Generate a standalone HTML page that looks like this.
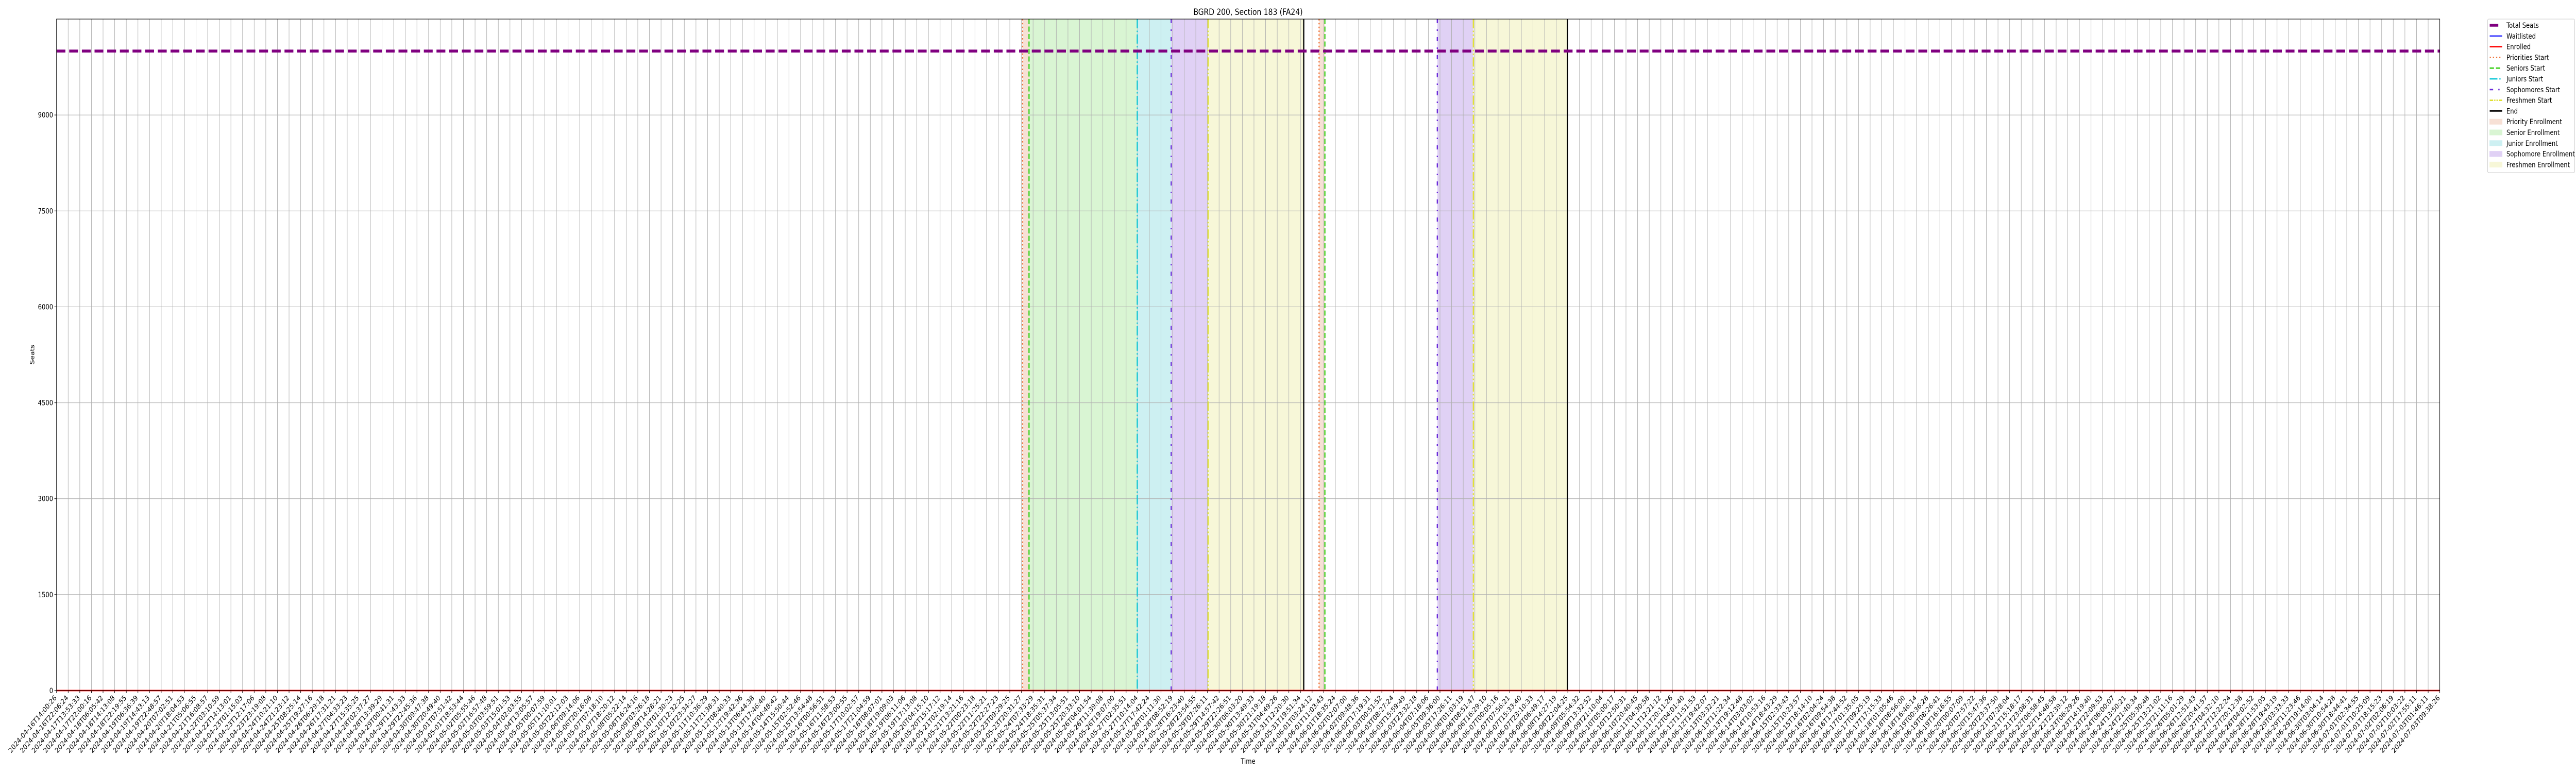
<!DOCTYPE html>
<html><head><meta charset="utf-8"><style>
html,body{margin:0;padding:0;background:#fff;width:100%;height:100%;overflow:hidden;}
svg{display:block;width:100vw;height:100vh;overflow:hidden;font-family:"DejaVu Sans","Liberation Sans",sans-serif;}
</style></head><body>
<svg id="chart" xmlns="http://www.w3.org/2000/svg" viewBox="0 0 6000 1500" preserveAspectRatio="none">
<rect x="0" y="0" width="6000" height="1500" fill="#fff"/>
<g id="spans"></g>
<g id="grid"></g>
<g id="vlines"></g>
<g id="series"></g>
<g id="axes"></g>
<text x="2907" y="29" text-anchor="middle" font-size="16.7">BGRD 200, Section 183 (FA24)</text>
<text x="2907" y="1482" text-anchor="middle" font-size="13.9">Time</text>
<text transform="translate(80,688) rotate(-90)" text-anchor="middle" font-size="13.9">Seats</text>
<g id="legend"></g>
</svg>
<script>
// ---- data ----
const labelAnchors = {
0:"2024-04-16T14:00:26",1:"2024-04-16T22:06:24",2:"2024-04-17T13:53:33",3:"2024-04-17T22:00:16",
4:"2024-04-18T06:05:42",5:"2024-04-18T14:13:08",6:"2024-04-18T22:19:55",7:"2024-04-19T06:36:39",
8:"2024-04-19T14:43:13",9:"2024-04-19T22:48:57",10:"2024-04-20T07:02:51",
86:"2024-05-25T05:37:34",87:"2024-05-25T13:05:51",88:"2024-05-25T20:33:10",89:"2024-05-26T04:01:54",
90:"2024-05-26T11:39:08",91:"2024-05-26T19:07:00",92:"2024-05-27T02:35:51",93:"2024-05-27T10:14:04",
94:"2024-05-27T17:42:24",95:"2024-05-28T01:11:30",96:"2024-05-28T08:52:19",97:"2024-05-28T16:23:40",
98:"2024-05-28T23:54:55",99:"2024-05-29T07:26:11",100:"2024-05-29T14:57:42",101:"2024-05-29T22:26:51",
102:"2024-05-30T06:03:20",103:"2024-05-30T13:49:33",104:"2024-05-30T21:19:18",105:"2024-05-31T04:49:26",
107:"2024-05-31T19:51:34",108:"2024-06-01T03:24:12",109:"2024-06-01T11:03:43",110:"2024-06-01T18:35:24",
111:"2024-06-02T02:07:00",112:"2024-06-02T09:48:36",113:"2024-06-02T17:19:31",114:"2024-06-03T00:51:52",
115:"2024-06-03T08:27:24",116:"2024-06-03T15:59:49",117:"2024-06-03T23:32:18",118:"2024-06-04T07:18:06",
119:"2024-06-05T09:36:00",120:"2024-06-05T17:26:11",121:"2024-06-06T01:03:19",122:"2024-06-06T08:51:47",
123:"2024-06-06T16:29:10",124:"2024-06-07T00:05:16",125:"2024-06-07T07:56:21",126:"2024-06-07T15:33:40",
127:"2024-06-07T23:10:33",128:"2024-06-08T06:49:17",129:"2024-06-08T14:27:19",130:"2024-06-08T22:04:25",
131:"2024-06-09T05:54:32",132:"2024-06-09T13:32:52",133:"2024-06-09T21:10:04",
200:"2024-07-01T18:15:23",201:"2024-07-02T02:06:19",202:"2024-07-02T10:03:22",203:"2024-07-02T17:55:11",
204:"2024-07-03T01:46:11",205:"2024-07-03T09:38:26"};
const nPoints = 206;
const yTicks = [0,1500,3000,4500,6000,7500,9000];
const yMax = 10500;
const totalSeats = [
10000,10000,10000,10000,10000,10000,10000,10000,10000,10000,
10000,10000,10000,10000,10000,10000,10000,10000,10000,10000,
10000,10000,10000,10000,10000,10000,10000,10000,10000,10000,
10000,10000,10000,10000,10000,10000,10000,10000,10000,10000,
10000,10000,10000,10000,10000,10000,10000,10000,10000,10000,
10000,10000,10000,10000,10000,10000,10000,10000,10000,10000,
10000,10000,10000,10000,10000,10000,10000,10000,10000,10000,
10000,10000,10000,10000,10000,10000,10000,10000,10000,10000,
10000,10000,10000,10000,10000,10000,10000,10000,10000,10000,
10000,10000,10000,10000,10000,10000,10000,10000,10000,10000,
10000,10000,10000,10000,10000,10000,10000,10000,10000,10000,
10000,10000,10000,10000,10000,10000,10000,10000,10000,10000,
10000,10000,10000,10000,10000,10000,10000,10000,10000,10000,
10000,10000,10000,10000,10000,10000,10000,10000,10000,10000,
10000,10000,10000,10000,10000,10000,10000,10000,10000,10000,
10000,10000,10000,10000,10000,10000,10000,10000,10000,10000,
10000,10000,10000,10000,10000,10000,10000,10000,10000,10000,
10000,10000,10000,10000,10000,10000,10000,10000,10000,10000,
10000,10000,10000,10000,10000,10000,10000,10000,10000,10000,
10000,10000,10000,10000,10000,10000,10000,10000,10000,10000,
10000,10000,10000,10000,10000,10000];
const waitlisted = [
0,0,0,0,0,0,0,0,0,0, 0,0,0,0,0,0,0,0,0,0, 0,0,0,0,0,0,0,0,0,0, 0,0,0,0,0,0,0,0,0,0,
0,0,0,0,0,0,0,0,0,0, 0,0,0,0,0,0,0,0,0,0, 0,0,0,0,0,0,0,0,0,0, 0,0,0,0,0,0,0,0,0,0,
0,0,0,0,0,0,0,0,0,0, 0,0,0,0,0,0,0,0,0,0, 0,0,0,0,0,0,0,0,0,0, 0,0,0,0,0,0,0,0,0,0,
0,0,0,0,0,0,0,0,0,0, 0,0,0,0,0,0,0,0,0,0, 0,0,0,0,0,0,0,0,0,0, 0,0,0,0,0,0,0,0,0,0,
0,0,0,0,0,0,0,0,0,0, 0,0,0,0,0,0,0,0,0,0, 0,0,0,0,0,0,0,0,0,0, 0,0,0,0,0,0,0,0,0,0,
0,0,0,0,0,0];
const enrolled = [
0,0,0,0,0,0,0,0,0,0, 0,0,0,0,0,0,0,0,0,0, 0,0,0,0,0,0,0,0,0,0, 0,0,0,0,0,0,0,0,0,0,
0,0,0,0,0,0,0,0,0,0, 0,0,0,0,0,0,0,0,0,0, 0,0,0,0,0,0,0,0,0,0, 0,0,0,0,0,0,0,0,0,0,
0,0,0,0,0,0,0,0,0,0, 0,0,0,0,0,0,0,0,0,0, 0,0,0,0,0,0,0,0,0,0, 0,0,0,0,0,0,0,0,0,0,
0,0,0,0,0,0,0,0,0,0, 0,0,0,0,0,0,0,0,0,0, 0,0,0,0,0,0,0,0,0,0, 0,0,0,0,0,0,0,0,0,0,
0,0,0,0,0,0,0,0,0,0, 0,0,0,0,0,0,0,0,0,0, 0,0,0,0,0,0,0,0,0,0, 0,0,0,0,0,0,0,0,0,0,
0,0,0,0,0,0];
// phase start positions (fractional time index)
const priorityStarts = [83.1, 108.6];
const seniorStarts = [83.65, 109.1];
const juniorStarts = [92.96];
const sophomoreStarts = [95.88, 118.77];
const freshmenStarts = [99.05, 121.87];
const endPoints = [107.28, 129.96];
// spans [start, end]
const prioritySpans = [[83.1,83.65],[108.6,109.1]];
const seniorSpans = [[83.65,92.96]];
const juniorSpans = [[92.96,95.88]];
const sophomoreSpans = [[95.88,99.05],[118.77,121.87]];
const freshmenSpans = [[99.05,107.28],[121.87,129.96]];

// ---- scales ----
const L=131.7, R=5682.7, T=37, B=1340;
const xs = i => L + i*(R-L)/(nPoints-1);
const ys = v => B - v/yMax*(B-T);
const NS="http://www.w3.org/2000/svg";
function mk(tag, attrs, parent){const e=document.createElementNS(NS,tag);for(const k in attrs)e.setAttribute(k,attrs[k]);parent.appendChild(e);return e;}

// labels
function parseT(s){const m=s.match(/(\d+)-(\d+)-(\d+)T(\d+):(\d+):(\d+)/);return Date.UTC(+m[1],+m[2]-1,+m[3],+m[4],+m[5],+m[6]);}
function fmt(t){const d=new Date(t);const p=n=>String(n).padStart(2,'0');return d.getUTCFullYear()+"-"+p(d.getUTCMonth()+1)+"-"+p(d.getUTCDate())+"T"+p(d.getUTCHours())+":"+p(d.getUTCMinutes())+":"+p(d.getUTCSeconds());}
const keys=Object.keys(labelAnchors).map(Number).sort((a,b)=>a-b);
const tickLabels=[];
for(let i=0;i<nPoints;i++){
  if(labelAnchors[i]){tickLabels.push(labelAnchors[i]);continue;}
  let a=keys.filter(k=>k<i).pop(), b=keys.find(k=>k>i);
  const ta=parseT(labelAnchors[a]), tb=parseT(labelAnchors[b]);
  tickLabels.push(fmt(ta+(tb-ta)*(i-a)/(b-a)));
}

// spans
const spansG=document.getElementById('spans');
function drawSpans(arr,color,name){arr.forEach(s=>{
  const r=mk('rect',{x:xs(s[0]),y:T,width:xs(s[1])-xs(s[0]),height:B-T,fill:color},spansG);
  
  
});}
drawSpans(prioritySpans,'#f7e0d5','priority-enrollment-span');
drawSpans(seniorSpans,'#d9f5d3','senior-enrollment-span');
drawSpans(juniorSpans,'#cdf0f2','junior-enrollment-span');
drawSpans(sophomoreSpans,'#e0d1f5','sophomore-enrollment-span');
drawSpans(freshmenSpans,'#f7f7d8','freshmen-enrollment-span');

// grid
const gridG=document.getElementById('grid');
for(let i=0;i<nPoints;i++){
  const l=mk('line',{x1:xs(i),x2:xs(i),y1:T,y2:B,stroke:'#b0b0b0','stroke-width':1.1},gridG);
  
  
}
yTicks.forEach(v=>{
  const l=mk('line',{x1:L,x2:R,y1:ys(v),y2:ys(v),stroke:'#b0b0b0','stroke-width':1.1},gridG);
  
  
});

// vertical phase lines
const vG=document.getElementById('vlines');
function drawV(arr,color,dash,w,name){arr.forEach(p=>{
  const a={x1:xs(p),x2:xs(p),y1:T,y2:B,stroke:color,'stroke-width':w};
  if(dash)a['stroke-dasharray']=dash;
  const l=mk('line',a,vG);
  
  
});}
drawV(priorityStarts,'#f0743a','2.8,4.6',2.8,'priorities-start-line');
drawV(seniorStarts,'#3fcf1f','10,4.5',2.8,'seniors-start-line');
drawV(juniorStarts,'#12c8d8','18,4.5,2.8,4.5',2.8,'juniors-start-line');
drawV(sophomoreStarts,'#6a2bd9','8,12,3,12',2.8,'sophomores-start-line');
drawV(freshmenStarts,'#e0e030','18,4.5,2.8,4.5,2.8,4.5',2.8,'freshmen-start-line');
drawV(endPoints,'#000','',2.8,'end-line');

// series
const sG=document.getElementById('series');
function path(vals){return vals.map((v,i)=>(i?'L':'M')+xs(i).toFixed(2)+','+ys(v).toFixed(2)).join('');}
const pw=mk('path',{d:path(waitlisted),fill:'none',stroke:'#0000ff','stroke-width':2.1},sG);


const pe=mk('path',{d:path(enrolled),fill:'none',stroke:'#ff0000','stroke-width':2.8},sG);


const pt=mk('path',{d:path(totalSeats),fill:'none',stroke:'#800080','stroke-width':5.6,'stroke-dasharray':'20.6,8.9'},sG);



// axes
const aG=document.getElementById('axes');
const fr=mk('rect',{x:L,y:T,width:R-L,height:B-T,fill:'none',stroke:'#000','stroke-width':1.1},aG);


yTicks.forEach(v=>{
  const t=mk('line',{x1:L-5,x2:L,y1:ys(v),y2:ys(v),stroke:'#000','stroke-width':1.1},aG);
  
  
  const tx=mk('text',{x:L-8,y:ys(v)+5,'text-anchor':'end','font-size':13.9},aG);
  tx.textContent=String(v);
  
  
});
for(let i=0;i<nPoints;i++){
  const t=mk('line',{x1:xs(i),x2:xs(i),y1:B,y2:B+5,stroke:'#000','stroke-width':1.1},aG);
  
  
  const tx=mk('text',{transform:'translate('+(xs(i)+1).toFixed(1)+','+(B+15)+') rotate(-45)','text-anchor':'end','font-size':13.9},aG);
  tx.textContent=tickLabels[i];
  
  
}

// legend
const lg=document.getElementById('legend');
const box=mk('rect',{x:5794,y:37,width:203,height:298,rx:3,fill:'#fff','fill-opacity':0.8,stroke:'#cccccc','stroke-width':1.1},lg);


const legendLabels=['Total Seats','Waitlisted','Enrolled','Priorities Start','Seniors Start','Juniors Start','Sophomores Start','Freshmen Start','End','Priority Enrollment','Senior Enrollment','Junior Enrollment','Sophomore Enrollment','Freshmen Enrollment'];
const legendStyles=[
 ['line','#800080',5.6,''],['line','#0000ff',2.1,''],['line','#ff0000',2.8,''],
 ['line','#f0743a',2.8,'2.8,4.6'],['line','#3fcf1f',2.8,'10,4.5'],['line','#12c8d8',2.8,'18,4.5,2.8,4.5'],
 ['line','#6a2bd9',2.8,'8,12,3,12'],['line','#e0e030',2.8,'8,2.5,2.8,2.5,2.8,2.5'],['line','#000',2.8,''],
 ['rect','#f7e0d5'],['rect','#d9f5d3'],['rect','#cdf0f2'],['rect','#e0d1f5'],['rect','#f7f7d8']];
legendLabels.forEach((lab,i)=>{
  const cy=49+i*20.8;
  const g=mk('g',{},lg);
  
  
  const st=legendStyles[i];
  if(st[0]==='line'){
    const a={x1:5799,x2:5828,y1:cy,y2:cy,stroke:st[1],'stroke-width':st[2]};
    if(st[3])a['stroke-dasharray']=st[3];
    if(i===0){a.x2=5819;}
    mk('line',a,g);
  } else {
    mk('rect',{x:5799,y:cy-5,width:29,height:10,fill:st[1],stroke:st[1],'stroke-width':1},g);
  }
  const t=mk('text',{x:5838,y:cy+5,'font-size':13.9},g);
  t.textContent=lab;
});
</script>
</body></html>
